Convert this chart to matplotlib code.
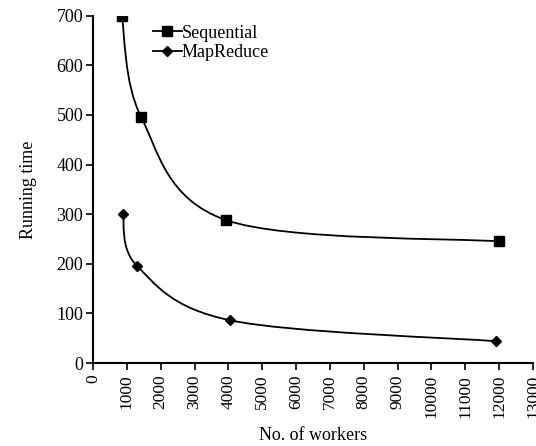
import matplotlib.pyplot as plt
import numpy as np
from matplotlib.path import Path
from matplotlib.patches import PathPatch

plt.rcParams['font.family'] = ['Liberation Serif', 'DejaVu Serif']

seq_workers = [850, 1420, 3930, 12000]
seq_time = [700, 496, 288, 245]
mr_workers = [880, 1310, 4060, 11900]
mr_time = [300, 195, 86, 44]


def smooth_path(xs, ys):
    # Catmull-Rom style bezier through the points (like a spreadsheet "smoothed line")
    pts = np.column_stack([xs, ys]).astype(float)
    n = len(pts)
    verts = [pts[0]]
    codes = [Path.MOVETO]
    for i in range(n - 1):
        p0 = pts[i - 1] if i > 0 else pts[i]
        p1 = pts[i]
        p2 = pts[i + 1]
        p3 = pts[i + 2] if i + 2 < n else pts[i + 1]
        c1 = p1 + (p2 - p0) / 6.0
        c2 = p2 - (p3 - p1) / 6.0
        verts += [c1, c2, p2]
        codes += [Path.CURVE4] * 3
    return Path(verts, codes)


fig = plt.figure(figsize=(5.36, 4.46), dpi=100)
ax = fig.add_axes([0.1735, 0.186, 0.8209, 0.779])

for xs, ys, mk, ms, lab in [(seq_workers, seq_time, 's', 6.5, 'Sequential'),
                             (mr_workers, mr_time, 'D', 5, 'MapReduce')]:
    ax.add_patch(PathPatch(smooth_path(xs, ys), facecolor='none',
                           edgecolor='black', lw=1.3))
    ax.plot(xs, ys, linestyle='none', marker=mk, color='black', markersize=ms)
    ax.plot([], [], '-', marker=mk, color='black', markersize=ms, lw=1.3, label=lab)

ax.set_xlim(0, 13000)
ax.set_ylim(0, 700)
ax.set_xticks(np.arange(0, 13001, 1000))
ax.set_yticks(np.arange(0, 701, 100))
ax.tick_params(axis='x', labelrotation=90, labelsize=12.5, length=5, width=1.2)
ax.tick_params(axis='y', labelsize=13, length=5, width=1.2, pad=2)
for s in ['top', 'right']:
    ax.spines[s].set_visible(False)
for s in ['left', 'bottom']:
    ax.spines[s].set_linewidth(1.5)

ax.set_xlabel('No. of workers', fontsize=13, labelpad=6)
ax.set_ylabel('Running time', fontsize=13, labelpad=14)
ax.legend(loc='upper left', bbox_to_anchor=(0.115, 1.0), frameon=False,
          fontsize=13, handlelength=1.6, handletextpad=0.0, labelspacing=0.15,
          borderaxespad=0.1)

fig.savefig('out.png', dpi=100)
